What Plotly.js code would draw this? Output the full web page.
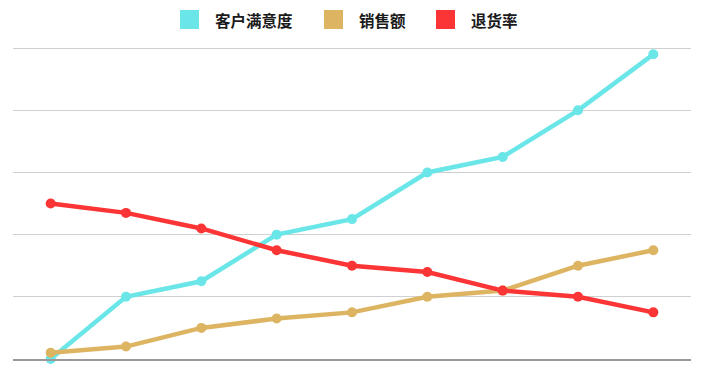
<!DOCTYPE html>
<html>
<head>
<meta charset="utf-8">
<script src="https://cdn.plot.ly/plotly-3.0.1.min.js"></script>
<style>html,body{margin:0;padding:0;background:#fff;}#chart{width:708px;height:374px;}</style>
</head>
<body>
<div id="chart"></div>
<script>
var categories = ["1", "2", "3", "4", "5", "6", "7", "8", "9"];
var seriesNames = ["客户满意度", "销售额", "退货率"];
var satisfaction = [0, 20, 25, 40, 45, 60, 65, 80, 98];
var sales = [2, 4, 10, 13, 15, 20, 22, 30, 35];
var returns = [50, 47, 42, 35, 30, 28, 22, 20, 15];
var colors = ["#6ae5e8", "#ddb562", "#fb3535"];
var seriesValues = [satisfaction, sales, returns];

var traces = seriesValues.map(function (vals, i) {
  return {
    type: "scatter",
    mode: "lines+markers",
    name: seriesNames[i],
    x: categories,
    y: vals,
    line: {color: colors[i], width: 4.5},
    marker: {color: colors[i], size: 10},
    cliponaxis: false,
    showlegend: false
  };
});

// custom legend (square swatches)
var legendX = [0.2463, 0.4587, 0.6239];
var shapes = [];
var annotations = [];
seriesNames.forEach(function (n, i) {
  shapes.push({
    type: "rect", xref: "paper", yref: "paper",
    x0: legendX[i], x1: legendX[i] + 0.028,
    y0: 1.051, y1: 1.1115,
    fillcolor: colors[i], line: {width: 0}
  });
  annotations.push({
    xref: "paper", yref: "paper",
    x: legendX[i] + 0.028 + 0.02, y: 1.0812,
    xanchor: "left", yanchor: "middle",
    text: n, showarrow: false,
    font: {family: "Noto Sans CJK SC", size: 15.5, color: "#1a1a1a", weight: 600}
  });
});

var layout = {
  width: 708, height: 374,
  margin: {l: 13, r: 17, t: 45, b: 15},
  paper_bgcolor: "#fff", plot_bgcolor: "#fff",
  showlegend: false,
  xaxis: {
    type: "category",
    range: [-0.5, 8.5],
    showticklabels: false,
    showgrid: false,
    zeroline: false,
    showline: true, linecolor: "#999", linewidth: 1.5,
    ticks: ""
  },
  yaxis: {
    range: [0, 101],
    tick0: 0, dtick: 20,
    showticklabels: false,
    showgrid: true, gridcolor: "#d0d0d0", gridwidth: 1,
    zeroline: false,
    showline: false,
    ticks: ""
  },
  shapes: shapes,
  annotations: annotations
};

Plotly.newPlot("chart", traces, layout, {displayModeBar: false, staticPlot: true});
</script>
</body>
</html>
